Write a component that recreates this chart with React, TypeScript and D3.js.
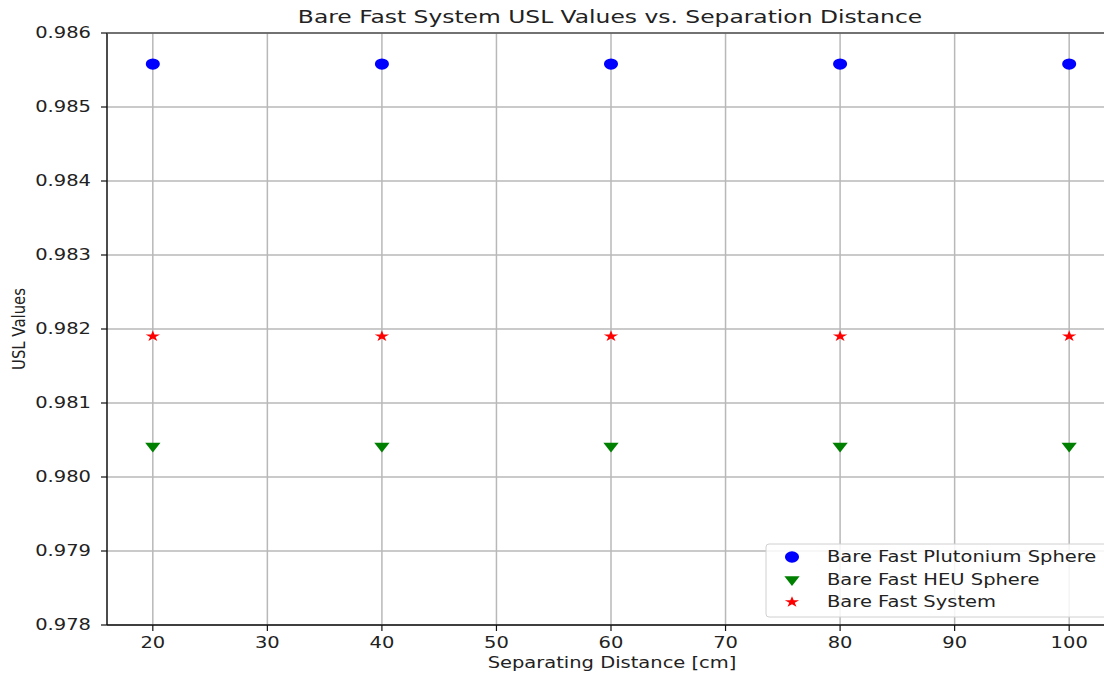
import React, { useEffect, useRef } from 'react';
import * as d3 from 'd3';

// separation distances (cm)
const distances = [20, 40, 60, 80, 100];
// USL values per series
const plutoniumUsl = [0.98558, 0.98558, 0.98558, 0.98558, 0.98558];
const heuUsl = [0.98042, 0.98042, 0.98042, 0.98042, 0.98042];
const systemUsl = [0.98190, 0.98190, 0.98190, 0.98190, 0.98190];
const seriesNames = ['Bare Fast Plutonium Sphere', 'Bare Fast HEU Sphere', 'Bare Fast System'];
const xTicks = [20, 30, 40, 50, 60, 70, 80, 90, 100];
const yTicks = [0.978, 0.979, 0.98, 0.981, 0.982, 0.983, 0.984, 0.985, 0.986];

const FONT = 'DejaVu Sans';
const SX = 1.3; // the picture is a bit stretched sideways

export default function App() {
  const ref = useRef<SVGSVGElement>(null);

  useEffect(() => {
    document.body.style.margin = '0';
    const width = 1104;
    const height = 673;
    const m = { left: 107, top: 33, right: 1115, bottom: 625 };

    const svg = d3.select(ref.current);
    svg.selectAll('*').remove();
    svg.attr('width', width).attr('height', height);

    const x = d3.scaleLinear().domain([16, 104]).range([m.left, m.right]);
    const y = d3.scaleLinear().domain([0.978, 0.986]).range([m.bottom, m.top]);

    const label = (tx: number, ty: number, text: string, size: number, anchor: string) =>
      svg.append('text')
        .attr('transform', `translate(${tx},${ty}) scale(${SX},1)`)
        .attr('text-anchor', anchor)
        .attr('dominant-baseline', 'central')
        .attr('font-family', FONT)
        .attr('font-size', size)
        .attr('fill', '#222')
        .text(text);

    // grid
    svg.append('g').selectAll('line').data(xTicks).join('line')
      .attr('x1', d => x(d)).attr('x2', d => x(d))
      .attr('y1', m.top).attr('y2', m.bottom)
      .attr('stroke', '#b8b8b8').attr('stroke-width', 1.5);
    svg.append('g').selectAll('line').data(yTicks).join('line')
      .attr('x1', m.left).attr('x2', m.right)
      .attr('y1', d => y(d)).attr('y2', d => y(d))
      .attr('stroke', '#b8b8b8').attr('stroke-width', 1.5);

    // spines
    svg.append('line').attr('x1', m.left).attr('x2', m.left).attr('y1', m.top).attr('y2', m.bottom)
      .attr('stroke', '#111').attr('stroke-width', 1.5);
    svg.append('line').attr('x1', m.left).attr('x2', m.right).attr('y1', m.bottom).attr('y2', m.bottom)
      .attr('stroke', '#111').attr('stroke-width', 1.5);
    svg.append('line').attr('x1', m.left).attr('x2', m.right).attr('y1', m.top).attr('y2', m.top)
      .attr('stroke', '#555').attr('stroke-width', 1.5);

    // ticks + labels
    xTicks.forEach(t => {
      svg.append('line').attr('x1', x(t)).attr('x2', x(t)).attr('y1', m.bottom).attr('y2', m.bottom + 6)
        .attr('stroke', '#111').attr('stroke-width', 1.2);
      label(x(t), 643, String(t), 15, 'middle');
    });
    yTicks.forEach(t => {
      svg.append('line').attr('x1', m.left - 6).attr('x2', m.left).attr('y1', y(t)).attr('y2', y(t))
        .attr('stroke', '#111').attr('stroke-width', 1.2);
      label(91, y(t), d3.format('.3f')(t), 15, 'end');
    });

    // titles
    label(610, 17, 'Bare Fast System USL Values vs. Separation Distance', 18, 'middle');
    label(612, 663, 'Separating Distance [cm]', 15, 'middle');
    svg.append('text')
      .attr('transform', `translate(19,329) rotate(-90) scale(1,${SX})`)
      .attr('text-anchor', 'middle')
      .attr('dominant-baseline', 'central')
      .attr('font-family', FONT)
      .attr('font-size', 14)
      .attr('fill', '#222')
      .attr('textLength', 82)
      .attr('lengthAdjust', 'spacingAndGlyphs')
      .text('USL Values');

    const circle = d3.symbol(d3.symbolCircle, 100)();
    const tri = d3.symbol(d3.symbolTriangle, 60)();
    const star = d3.symbol(d3.symbolStar, 38)();

    const drawSeries = (vals: number[], path: string | null, fill: string, tf: string) => {
      svg.append('g').selectAll('path').data(distances).join('path')
        .attr('d', path)
        .attr('fill', fill)
        .attr('transform', (d, i) => `translate(${x(d)},${y(vals[i])}) ${tf}`);
    };
    drawSeries(plutoniumUsl, circle, '#0000ff', 'scale(1.25,1)');
    drawSeries(heuUsl, tri, '#008000', 'scale(1.3,0.95) rotate(180)');
    drawSeries(systemUsl, star, '#ff0000', 'scale(1.3,1)');

    // legend
    const lg = svg.append('g');
    lg.append('rect').attr('x', 766).attr('y', 544).attr('width', 342).attr('height', 73)
      .attr('rx', 3).attr('fill', 'white').attr('fill-opacity', 0.85)
      .attr('stroke', '#d0d0d0').attr('stroke-width', 1);
    const items = [
      { path: circle, fill: '#0000ff', tf: 'scale(1.25,1)' },
      { path: tri, fill: '#008000', tf: 'scale(1.3,0.95) rotate(180)' },
      { path: star, fill: '#ff0000', tf: 'scale(1.3,1)' },
    ];
    seriesNames.forEach((name, i) => {
      const ly = 557 + i * 22.5;
      lg.append('path').attr('d', items[i].path).attr('fill', items[i].fill)
        .attr('transform', `translate(792,${ly}) ${items[i].tf}`);
      label(827, ly, name, 15, 'start');
    });
  }, []);

  return <svg ref={ref} />;
}
